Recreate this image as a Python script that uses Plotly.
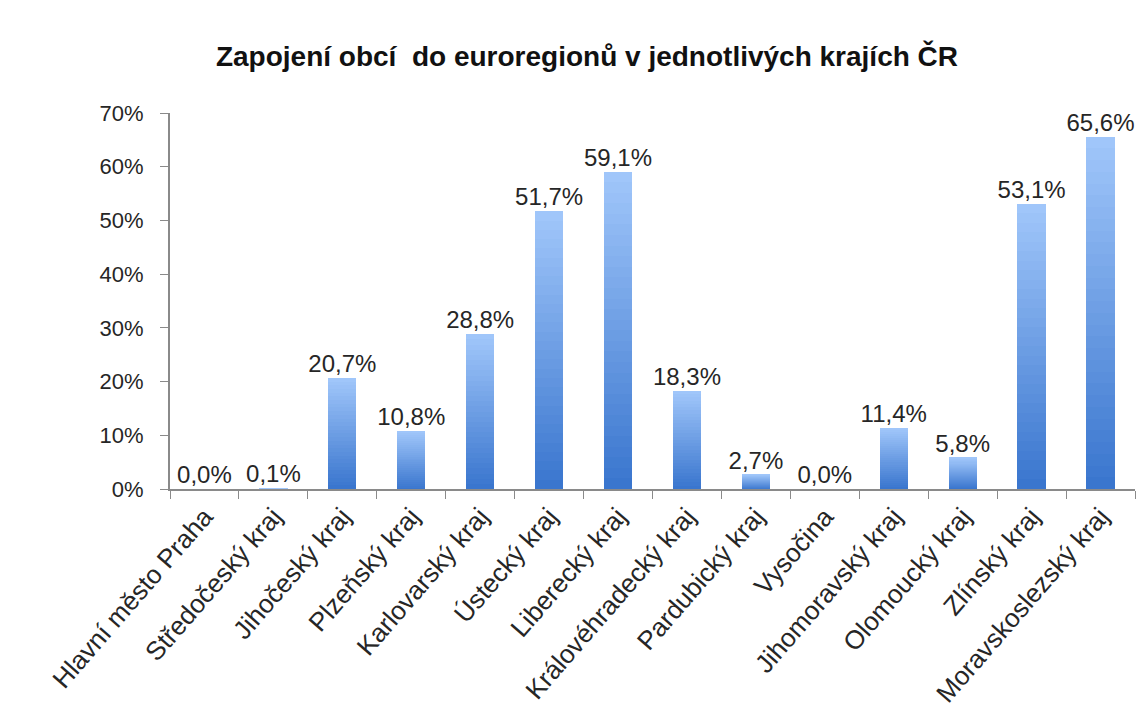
import plotly.graph_objs as go

# podíl obcí zapojených do euroregionů (%)
kraje = ['Hlavní město Praha', 'Středočeský kraj', 'Jihočeský kraj', 'Plzeňský kraj',
         'Karlovarský kraj', 'Ústecký kraj', 'Liberecký kraj', 'Královéhradecký kraj',
         'Pardubický kraj', 'Vysočina', 'Jihomoravský kraj', 'Olomoucký kraj',
         'Zlínský kraj', 'Moravskoslezský kraj']
podil = [0.0, 0.1, 20.7, 10.8, 28.8, 51.7, 59.1, 18.3, 2.7, 0.0, 11.4, 5.8, 53.1, 65.6]
y_ticks = [0, 10, 20, 30, 40, 50, 60, 70]

FONT = 'Liberation Sans, Arial'
TXT = '#262626'

# gradient fill: stack thin slices from dark (bottom) to light (top)
N_SLICES = 30
bottom_rgb = (58, 118, 206)
top_rgb = (160, 198, 250)


def slice_color(k):
    t = k / (N_SLICES - 1)
    r, g, b = [round(a + (c - a) * t) for a, c in zip(bottom_rgb, top_rgb)]
    return 'rgb(%d,%d,%d)' % (r, g, b)


traces = []
for k in range(N_SLICES):
    traces.append(go.Bar(
        x=kraje, y=[v / N_SLICES for v in podil],
        marker=dict(color=slice_color(k), line=dict(width=0)),
        hoverinfo='skip', showlegend=False
    ))

labels = [('%.1f' % v).replace('.', ',') + '%' for v in podil]
traces.append(go.Scatter(
    x=kraje, y=podil, mode='text', text=labels,
    textposition='top center',
    textfont=dict(family=FONT, size=24, color=TXT),
    showlegend=False, hoverinfo='skip', cliponaxis=False
))

fig = go.Figure(data=traces)
fig.update_layout(
    width=1144, height=726,
    barmode='stack', bargap=0.59,
    paper_bgcolor='white', plot_bgcolor='white',
    margin=dict(l=162, r=17, t=105, b=245, autoexpand=False),
    title=dict(text='Zapojení obcí  do euroregionů v jednotlivých krajích ČR',
               x=579 / 1144, xref='container', xanchor='center',
               y=1 - 48 / 726, yanchor='middle',
               font=dict(family=FONT, size=28, color='#111111', weight='bold')),
    font=dict(family=FONT, color=TXT),
)
fig.update_xaxes(
    type='category', range=[-0.5, len(kraje) - 0.5],
    tickangle=-49, automargin=False,
    tickfont=dict(family=FONT, size=26, color=TXT),
    showline=True, linecolor='#8a8a8a', linewidth=2,
    ticks='outside', tickson='boundaries', ticklen=8, tickcolor='#8a8a8a',
    showgrid=False
)
fig.update_yaxes(
    range=[0, 70], tickvals=y_ticks, ticktext=['%d%%' % t for t in y_ticks],
    automargin=False, ticklabelstandoff=12,
    tickfont=dict(family=FONT, size=22, color=TXT),
    showline=True, linecolor='#8a8a8a', linewidth=2,
    ticks='outside', ticklen=8, tickcolor='#8a8a8a',
    showgrid=False, zeroline=False
)

fig.write_html("out.html")
